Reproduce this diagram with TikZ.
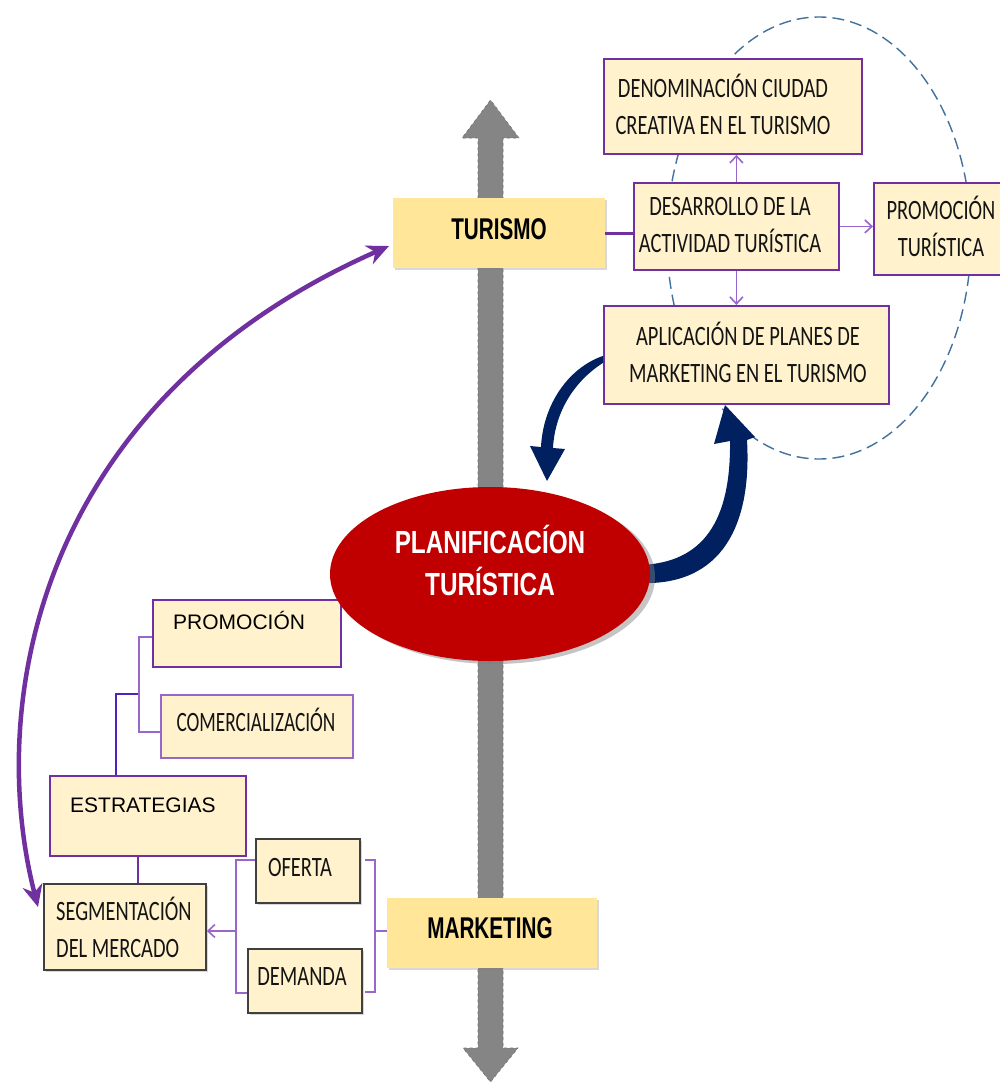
\documentclass[tikz,border=0pt]{standalone}
\usepackage{fontspec}
\setmainfont{Liberation Sans}
\newfontfamily\calf[FakeStretch=0.73]{Carlito}
\newfontfamily\calfn[FakeStretch=0.69]{Carlito}
\newfontfamily\narf[FakeStretch=0.69]{Liberation Sans}
\newfontfamily\narfb[FakeStretch=0.76]{Liberation Sans}
\usetikzlibrary{arrows.meta,shadows,shapes.geometric,calc}
\definecolor{boxfill}{HTML}{FFF2CC}
\definecolor{gold}{HTML}{FFE699}
\definecolor{purp}{HTML}{7030A0}
\definecolor{lpurp}{HTML}{9966CC}
\definecolor{navyb}{HTML}{002060}
\definecolor{redp}{HTML}{C00000}
\definecolor{dashblue}{HTML}{41719C}
\definecolor{arrowgray}{HTML}{858585}
\definecolor{ink}{HTML}{141414}
\tikzset{
  pbox/.style={draw=purp, line width=1.8pt, fill=boxfill, inner sep=0pt, anchor=north west},
  lpbox/.style={draw=lpurp, line width=1.8pt, fill=boxfill, inner sep=0pt, anchor=north west},
  gbox/.style={draw=black!75, line width=1.8pt, fill=boxfill, inner sep=0pt, anchor=north west,
    drop shadow={opacity=0.3, shadow xshift=2pt, shadow yshift=-2pt}},
  ybox/.style={fill=gold, inner sep=0pt, anchor=north west,
    drop shadow={opacity=0.3, shadow xshift=2pt, shadow yshift=-2pt}},
  ctext/.style={font=\calf\fontsize{28}{37}\selectfont, align=center, text=ink, inner sep=0pt},
  btext/.style={font=\narf\bfseries\fontsize{30}{36}\selectfont, text=black, inner sep=0pt},
  atext/.style={font=\fontsize{21}{25}\selectfont, text=black, inner sep=0pt},
  ptext/.style={font=\narfb\bfseries\fontsize{32}{42}\selectfont, text=white, align=center, inner sep=0pt},
  thinl/.style={draw=lpurp, line width=1.6pt},
  arr/.style={draw=lpurp, line width=1.6pt, -{Straight Barb[length=7pt,width=13pt]}},
}
\begin{document}
\begin{tikzpicture}[x=1pt,y=-1pt]
\useasboundingbox (0,0) rectangle (999,1082);
\fill[white] (0,0) rectangle (999,1082);
% gray double arrow
\filldraw[fill=arrowgray, draw=black!55, dashed, line width=0.6pt]
  (478,138) -- (462,138) -- (490.5,100) -- (519,138) -- (503,138) -- (503,1048)
  -- (518,1048) -- (490.5,1082) -- (463,1048) -- (478,1048) -- cycle;
% dashed ellipse
\draw[dashblue, line width=1.4pt, dash pattern=on 12pt off 6pt] (819,238) ellipse [x radius=152, y radius=221];
% top boxes
\node[pbox, minimum width=258, minimum height=95] (denom) at (603,58) {};
\node[ctext] (denomT) at (723,104) {DENOMINACIÓN CIUDAD\\CREATIVA EN EL TURISMO};
\node[pbox, minimum width=205, minimum height=87] (desa) at (633,182) {};
\node[ctext] (desaT) at (730,225) {DESARROLLO DE LA\\ACTIVIDAD TURÍSTICA};
\node[pbox, minimum width=140, minimum height=92] (promt) at (873,182) {};
\node[ctext] (promtT) at (941,226) {PROMOCIÓN\\TURÍSTICA};
\node[pbox, minimum width=285, minimum height=98] (apl) at (603,305) {};
\node[ctext] (aplT) at (748,352) {APLICACIÓN DE PLANES DE\\MARKETING EN EL TURISMO};
\node[ybox, minimum width=212, minimum height=70] (tur) at (393,198) {};
\node[btext, anchor=base] (turT) at (499,239) {TURISMO};
% connectors top
\draw[purp, line width=3pt] (tur.east) -- (tur.east -| desa.west);
\draw[arr] (desa.north) -- (desa.north |- denom.south);
\draw[arr] (desa.south) -- (desa.south |- apl.north);
\draw[arr] (desa.east) -- (desa.east -| promt.west);
% left boxes
\node[pbox, minimum width=188, minimum height=67] (prom) at (152,599) {};
\node[atext, anchor=base west] (promT) at (173,629) {PROMOCIÓN};
\node[lpbox, minimum width=192, minimum height=63] (comer) at (160,694) {};
\node[ctext, font=\calfn\fontsize{28}{37}\selectfont, anchor=base] (comerT) at (256,731) {COMERCIALIZACIÓN};
\node[pbox, minimum width=196, minimum height=80] (estr) at (49,775) {};
\node[atext, anchor=base west] (estrT) at (70,812) {ESTRATEGIAS};
\node[gbox, minimum width=162, minimum height=86] (seg) at (43,883) {};
\node[ctext, align=left, anchor=west] (segT) at (56,927) {SEGMENTACIÓN\\DEL MERCADO};
\node[gbox, minimum width=104, minimum height=64] (ofe) at (255,838) {};
\node[ctext, anchor=base] (ofeT) at (300,876) {OFERTA};
\node[gbox, minimum width=114, minimum height=64] (dem) at (247,948) {};
\node[ctext, anchor=base] (demT) at (302,985) {DEMANDA};
\node[ybox, minimum width=210, minimum height=70] (mkt) at (387,898) {};
\node[btext, anchor=base] (mktT) at (490,938) {MARKETING};
% left connectors
\coordinate (e1) at (116,694);
\coordinate (kb) at (139,694);
\coordinate (sx) at (138,0);
\draw[draw=purp!70!blue, line width=1.3pt] (e1 |- estr.north) -- (e1) -- (kb);
\draw[thinl] ($(prom.north west)+(0,38)$) -| (kb) |- ($(comer.north west)+(0,38)$);
\draw[draw=purp, line width=1.6pt] (estr.south -| sx) -- (seg.north -| sx);
\coordinate (lb) at (236,931);
\coordinate (rb) at (375,931);
\draw[thinl] ($(ofe.north west)+(0,22)$) -| (lb) |- ($(dem.north west)+(0,45)$);
\draw[arr] (lb) -- (lb -| seg.east);
\draw[thinl] ($(ofe.north east)+(4,22)$) -| (rb) |- ($(dem.north east)+(2,44)$);
\draw[thinl] (rb) -- (rb -| mkt.west);
% navy curved arrow from APLICACION down to PLANIFICACION
\fill[navyb] ($(apl.west)+(0,1)$) .. controls (568,368) and (543,405) .. (541,447)
  -- (530,446) -- (547,481) -- (565,449) -- (553,448)
  .. controls (555,410) and (576,380) .. ($(apl.west)+(0,8)$) -- cycle;
% navy curved arrow from PLANIFICACION up to APLICACION
\fill[navyb] (640,583) .. controls (722,586) and (752,525) .. (747,440)
  -- (755,437) -- (725,405) -- (714,444) -- (730,441)
  .. controls (731,520) and (704,563) .. (640,565) -- cycle;
% planificacion ellipse
\node[ellipse, fill=redp, minimum width=320, minimum height=174, inner sep=0pt,
  drop shadow={opacity=0.45, shadow xshift=5pt, shadow yshift=-3pt}] (plan) at (490,574) {};
\node[ptext] (planT) at (490,560) {PLANIFICACÍON\\TURÍSTICA};
% purple long arrow
\coordinate (pbot) at (38,907);
\coordinate (ptop) at (389,246);
\draw[purp, line width=4.5pt, {Stealth[length=22pt,width=20pt]}-{Stealth[length=22pt,width=20pt]}]
  (pbot) .. controls (-15,700) and (40,400) .. (ptop);
\end{tikzpicture}
\end{document}
